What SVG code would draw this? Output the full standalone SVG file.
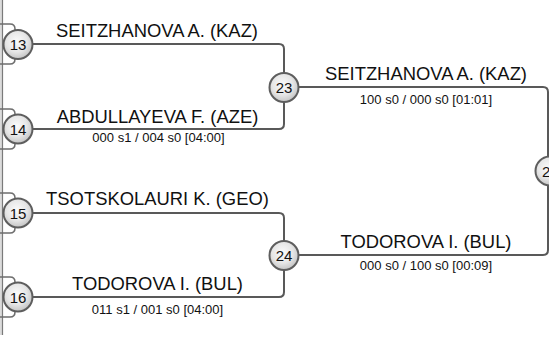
<svg xmlns="http://www.w3.org/2000/svg" width="549" height="343" viewBox="0 0 549 343">
<style>
.ln{fill:none;stroke:#595959;stroke-width:2}
.br{fill:none;stroke:#6e6e6e;stroke-width:1.5}
.c{fill:url(#g);stroke:#5e5e5e;stroke-width:2}
.num{font-family:"Liberation Sans",Arial,sans-serif;font-size:15px;fill:#111;text-anchor:middle}
.nm{font-family:"Liberation Sans",Arial,sans-serif;font-size:18.4px;fill:#111;text-anchor:middle}
.sc{font-family:"Liberation Sans",Arial,sans-serif;font-size:13px;fill:#111;text-anchor:middle}
</style>
<defs>
<radialGradient id="g" cx="45%" cy="40%" r="60%">
<stop offset="0" stop-color="#fbfbfb"/>
<stop offset="0.6" stop-color="#e6e6e6"/>
<stop offset="1" stop-color="#c4c4c4"/>
</radialGradient>
</defs>
<rect width="549" height="343" fill="#fff"/>
<rect x="0" y="0" width="2" height="335" fill="#dcdcdc"/>
<line x1="2.5" y1="0" x2="2.5" y2="335" stroke="#7a7a7a" stroke-width="1.2"/>
<g id="connectors">
<path class="br" d="M0,24 H10 Q15,24 15,29 V59 Q15,64 10,64 H0"/>
<path class="br" d="M0,109 H10 Q15,109 15,114 V144 Q15,149 10,149 H0"/>
<path class="br" d="M0,193 H10 Q15,193 15,198 V228 Q15,233 10,233 H0"/>
<path class="br" d="M0,277 H10 Q15,277 15,282 V312 Q15,317 10,317 H0"/>
<path class="ln" d="M18,44 H279 Q284,44 284,49 V124 Q284,129 279,129 H18"/>
<path class="ln" d="M18,213 H279 Q284,213 284,218 V292 Q284,297 279,297 H18"/>
<path class="ln" d="M284,87 H543 Q548,87 548,92 V250 Q548,255 543,255 H284"/>
</g>
<g id="n13"><circle class="c" cx="18" cy="44.5" r="14.5"/><text class="num" x="18" y="50">13</text></g>
<g id="n14"><circle class="c" cx="18" cy="129" r="14.5"/><text class="num" x="18" y="134.5">14</text></g>
<g id="n15"><circle class="c" cx="18" cy="213" r="14.5"/><text class="num" x="18" y="218.5">15</text></g>
<g id="n16"><circle class="c" cx="18" cy="297" r="14.5"/><text class="num" x="18" y="302.5">16</text></g>
<g id="n23"><circle class="c" cx="284" cy="87.5" r="14.5"/><text class="num" x="284" y="93">23</text></g>
<g id="n24"><circle class="c" cx="284" cy="255.5" r="14.5"/><text class="num" x="284" y="261">24</text></g>
<g id="n2x"><circle class="c" cx="550" cy="171" r="14.5"/><text class="num" x="542" y="176.5" style="text-anchor:start">2</text></g>
<g id="labels">
<text class="nm" x="157" y="37">SEITZHANOVA A. (KAZ)</text>
<text class="nm" x="157.5" y="122.5">ABDULLAYEVA F. (AZE)</text>
<text class="sc" x="158.5" y="141.5">000 s1 / 004 s0 [04:00]</text>
<text class="nm" x="157.5" y="205">TSOTSKOLAURI K. (GEO)</text>
<text class="nm" x="157.5" y="290">TODOROVA I. (BUL)</text>
<text class="sc" x="157.5" y="314">011 s1 / 001 s0 [04:00]</text>
<text class="nm" x="426" y="79.5">SEITZHANOVA A. (KAZ)</text>
<text class="sc" x="426" y="103.5">100 s0 / 000 s0 [01:01]</text>
<text class="nm" x="426" y="247.5">TODOROVA I. (BUL)</text>
<text class="sc" x="426" y="270">000 s0 / 100 s0 [00:09]</text>
</g>
</svg>
